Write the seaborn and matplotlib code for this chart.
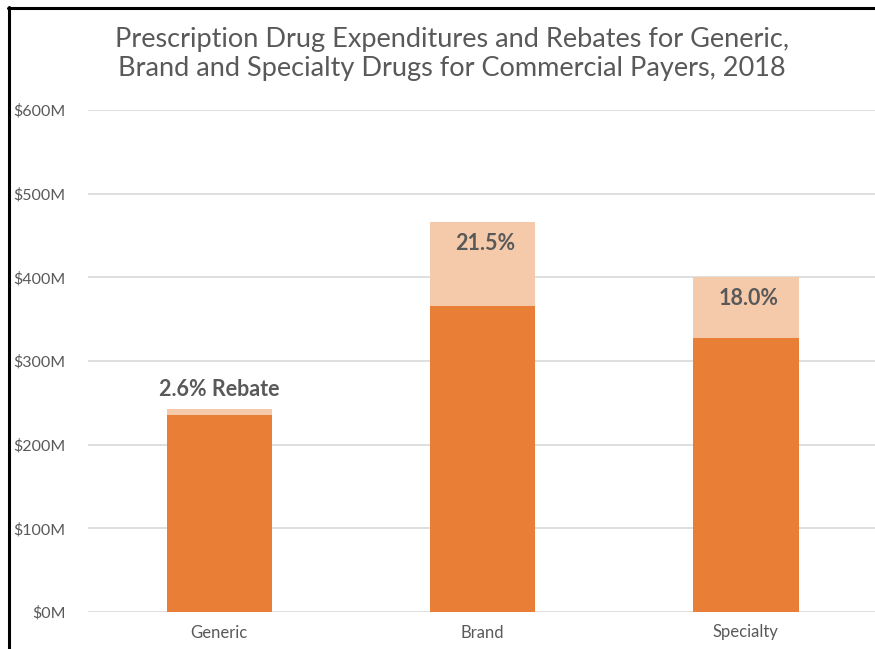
import matplotlib
matplotlib.use("Agg")
import matplotlib.pyplot as plt
import seaborn as sns
import pandas as pd
from matplotlib.lines import Line2D

categories = ["Generic", "Brand", "Specialty"]
net_spend = [236, 366, 328]        # $M after rebates
rebates = [6.3, 100, 72]           # $M rebates
rebate_labels = ["2.6% Rebate", "21.5%", "18.0%"]
yticks = [0, 100, 200, 300, 400, 500, 600]
ytick_labels = ["$0M", "$100M", "$200M", "$300M", "$400M", "$500M", "$600M"]
title = ("Prescription Drug Expenditures and Rebates for Generic,\n"
         "Brand and Specialty Drugs for Commercial Payers, 2018")

totals = [n + r for n, r in zip(net_spend, rebates)]
df = pd.DataFrame({"cat": categories, "net": net_spend, "total": totals})

sns.set_theme(style="white")
plt.rcParams["font.family"] = ["Lato", "DejaVu Sans"]

fig = plt.figure(figsize=(8.75, 6.49), dpi=100)
ax = fig.add_axes([87.5 / 875, 37 / 649, 790 / 875, 502 / 649])

dark = "#E97F36"
light = "#F5CAAA"
text_col = "#595959"

sns.barplot(data=df, x="cat", y="total", color=light, width=0.4, ax=ax,
            saturation=1, linewidth=0, zorder=3)
sns.barplot(data=df, x="cat", y="net", color=dark, width=0.4, ax=ax,
            saturation=1, linewidth=0, zorder=4)

ax.set_xlim(-0.5, 2.5)
ax.set_ylim(0, 600)
ax.set_yticks(yticks)
ax.set_yticklabels(ytick_labels)
ax.set_xlabel("")
ax.set_ylabel("")
ax.yaxis.grid(True, color="#D9D9D9", linewidth=1.2, zorder=0)
ax.set_axisbelow(True)
for s in ax.spines.values():
    s.set_visible(False)
ax.tick_params(axis="y", length=0, colors=text_col, labelsize=11.5, pad=16)
ax.tick_params(axis="x", length=0, colors=text_col, labelsize=12, pad=9)
for lbl in ax.get_xticklabels() + ax.get_yticklabels():
    lbl.set_color(text_col)

for i, (lab, tot) in enumerate(zip(rebate_labels, totals)):
    if i == 0:
        ax.annotate(lab, (i, tot), xytext=(0, 7), textcoords="offset points",
                    ha="center", va="bottom", fontsize=15.5, fontweight="bold",
                    color=text_col, zorder=5)
    else:
        ax.annotate(lab, (i, tot), xytext=(2, -8), textcoords="offset points",
                    ha="center", va="top", fontsize=15.5, fontweight="bold",
                    color=text_col, zorder=5)

fig.text(452 / 875, 1 - 54 / 649, title, ha="center", va="center",
         fontsize=19.5, color=text_col, linespacing=1.2)

# frame lines on top and left
fig.add_artist(Line2D([0.0095, 1.0], [1 - 8 / 649, 1 - 8 / 649],
                      transform=fig.transFigure, color="black", linewidth=2.2))
fig.add_artist(Line2D([8.5 / 875, 8.5 / 875], [0, 1 - 7 / 649],
                      transform=fig.transFigure, color="black", linewidth=2.2))

fig.savefig("out.png", dpi=100)
